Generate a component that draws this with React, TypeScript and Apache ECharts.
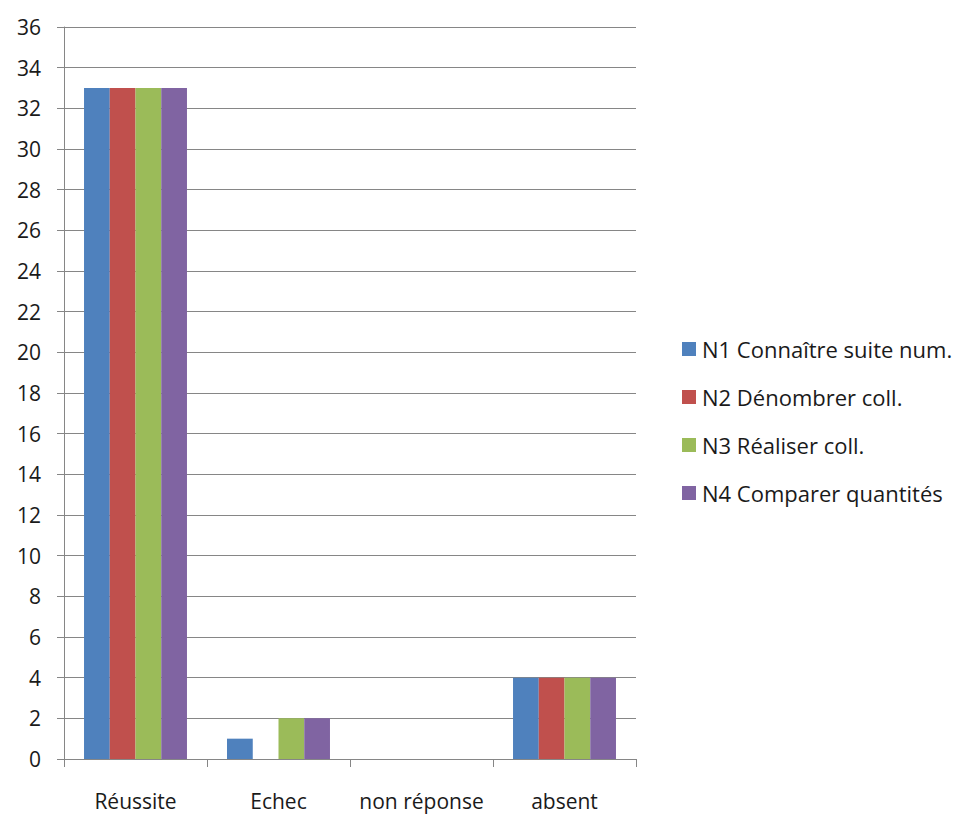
import React, { useEffect, useRef } from "react";
import * as echarts from "echarts";

const categories = ["Réussite", "Echec", "non réponse", "absent"];
const seriesNames = [
  "N1 Connaître suite num.",
  "N2 Dénombrer coll.",
  "N3 Réaliser coll.",
  "N4 Comparer quantités",
];
const n1 = [33, 1, 0, 4];
const n2 = [33, 0, 0, 4];
const n3 = [33, 2, 0, 4];
const n4 = [33, 2, 0, 4];
const colors = ["#4F81BD", "#C0504D", "#9BBB59", "#8064A2"];

export default function App() {
  const ref = useRef<HTMLDivElement>(null);
  useEffect(() => {
    if (!ref.current) return;
    const chart = echarts.init(ref.current, undefined, { renderer: "svg" });
    const values = [n1, n2, n3, n4];
    const font = "'Open Sans', Lato, sans-serif";
    chart.setOption({
      animation: false,
      textStyle: { fontFamily: font },
      grid: { left: 64, right: 330, top: 27, bottom: 55, containLabel: false },
      legend: {
        orient: "vertical",
        left: 677,
        top: 332,
        itemWidth: 14,
        itemHeight: 14,
        itemGap: 24,
        icon: "rect",
        textStyle: { fontSize: 22, lineHeight: 24, color: "#1a1a1a", fontFamily: font, padding: [0, 0, 0, 1] },
        data: seriesNames,
      },
      xAxis: {
        type: "category",
        data: categories,
        axisLine: { lineStyle: { color: "#868686", width: 1 } },
        axisTick: { show: true, interval: 0, length: 8, lineStyle: { color: "#868686" }, alignWithLabel: false },
        axisLabel: { interval: 0, fontSize: 21, color: "#1a1a1a", margin: 31, fontFamily: font },
      },
      yAxis: {
        type: "value",
        min: 0,
        max: 36,
        interval: 2,
        axisLine: { show: true, lineStyle: { color: "#868686", width: 1 } },
        axisTick: { show: true, length: 7, lineStyle: { color: "#868686" } },
        axisLabel: { fontSize: 21, color: "#1a1a1a", margin: 23, fontFamily: font },
        splitLine: { show: true, lineStyle: { color: "#868686", width: 1 } },
      },
      series: values.map((v, i) => ({
        name: seriesNames[i],
        type: "bar",
        data: v,
        barGap: "0%",
        barCategoryGap: "28%",
        itemStyle: { color: colors[i] },
      })),
    });
    return () => chart.dispose();
  }, []);
  return (
    <div
      ref={ref}
      style={{ position: "fixed", left: 0, top: 0, width: 966, height: 814, background: "#fff" }}
    />
  );
}
